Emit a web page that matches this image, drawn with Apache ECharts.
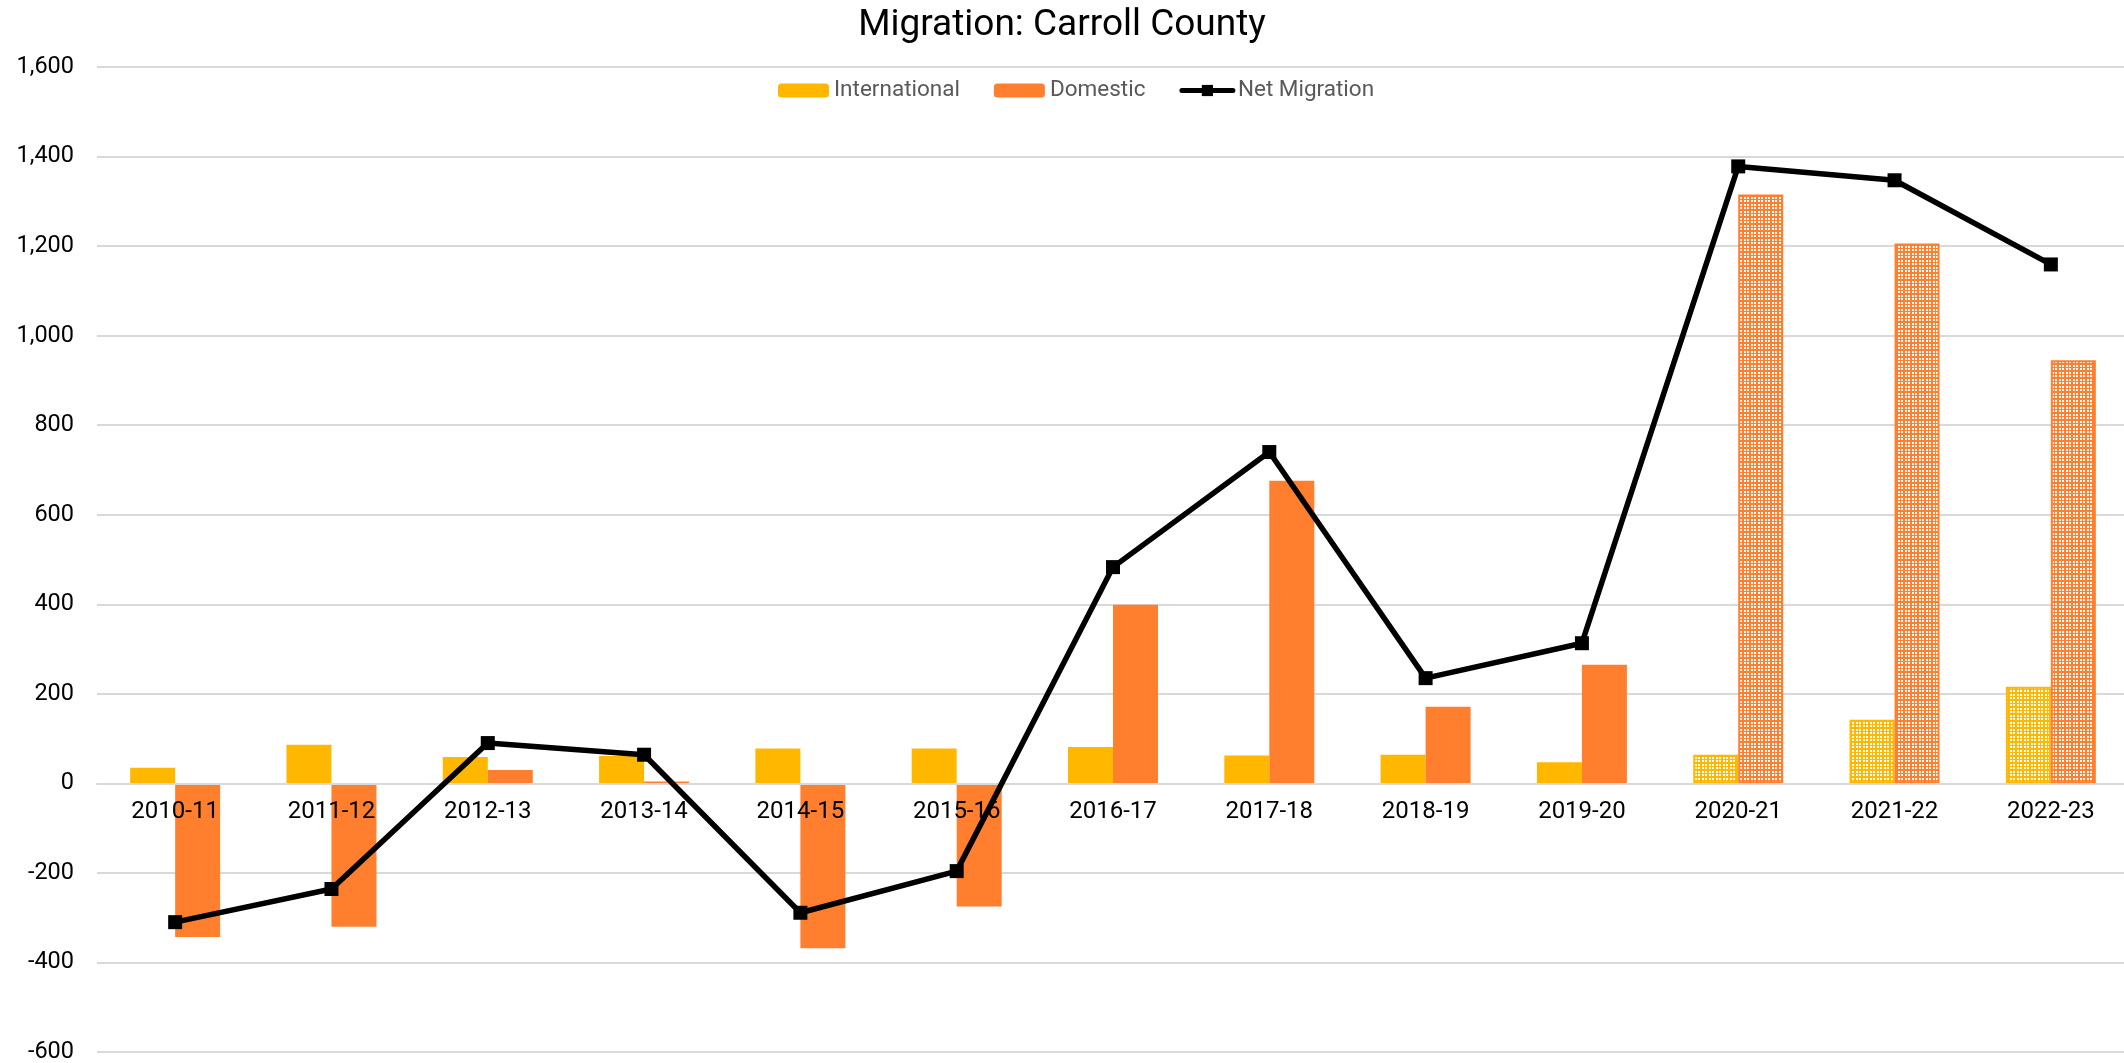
<!DOCTYPE html>
<html>
<head>
<meta charset="utf-8">
<title>Migration: Carroll County</title>
<script src="https://cdn.jsdelivr.net/npm/echarts@6/dist/echarts.min.js"></script>
<style>
    html, body { margin: 0; padding: 0; background: #fff; }
    #main { width: 2124px; height: 1063px; }
</style>
</head>
<body>
<div id="main"></div>
<script>
// 年份
var years = ['2010-11', '2011-12', '2012-13', '2013-14', '2014-15', '2015-16', '2016-17',
    '2017-18', '2018-19', '2019-20', '2020-21', '2021-22', '2022-23'];
var international = [35, 86, 59, 61, 78, 78, 81, 62, 64, 47, 64, 142, 216];
var domestic = [-343, -320, 30, 4, -368, -275, 399, 676, 171, 265, 1315, 1206, 945];
var netMigration = [-310, -236, 90, 64, -289, -196, 483, 740, 235, 313, 1378, 1347, 1159];
// 点状填充的年份
var dottedYears = ['2020-21', '2021-22', '2022-23'];
var yMin = -600;
var yMax = 1600;
var yStep = 200;

var YELLOW = '#FFB700';
var ORANGE = '#FF7F2E';

/**
 * 点状图案 (白点)
 */
function makeDots(color) {
    var c = document.createElement('canvas');
    c.width = 7;
    c.height = 7;
    var ctx = c.getContext('2d');
    ctx.fillStyle = color;
    ctx.fillRect(0, 0, 7, 7);
    ctx.fillStyle = '#ffffff';
    var pos = [1, 4];
    for (var i = 0; i < pos.length; i++) {
        for (var j = 0; j < pos.length; j++) {
            ctx.fillRect(pos[i], pos[j], 2, 2);
        }
    }
    return { image: c, repeat: 'repeat' };
}

function barData(values, color) {
    var pattern = makeDots(color);
    var out = [];
    for (var i = 0; i < values.length; i++) {
        if (dottedYears.indexOf(years[i]) >= 0) {
            out.push({
                value: values[i],
                itemStyle: { color: pattern, borderColor: color, borderWidth: 2 }
            });
        } else {
            out.push(values[i]);
        }
    }
    return out;
}

var chart = echarts.init(document.getElementById('main'), null, { renderer: 'canvas' });

var option = {
    animation: false,
    backgroundColor: '#fff',
    textStyle: { fontFamily: 'Roboto' },
    title: {
        text: 'Migration: Carroll County',
        left: 'center',
        top: 2,
        textStyle: { fontFamily: 'Roboto', fontSize: 37, fontWeight: 'normal', color: '#000' }
    },
    legend: {
        left: 773,
        top: 74,
        itemWidth: 51,
        itemHeight: 14,
        itemGap: 34,
        textStyle: { fontFamily: 'Roboto', fontSize: 22.5, color: '#595959' },
        data: [
            'International',
            'Domestic',
            { name: 'Net Migration', lineStyle: { width: 5, cap: 'round' } }
        ]
    },
    grid: {
        left: 97,
        right: -5,
        top: 67,
        bottom: 11,
        containLabel: false,
        outerBoundsMode: 'none'
    },
    xAxis: {
        type: 'category',
        data: years,
        z: 3,
        axisLine: { onZero: false, lineStyle: { color: '#d9d9d9', width: 2 } },
        axisTick: { show: false },
        axisLabel: { margin: 17, fontFamily: 'Roboto', fontSize: 24, color: '#000', interval: 0 }
    },
    yAxis: {
        type: 'value',
        min: yMin,
        max: yMax,
        interval: yStep,
        axisLine: { show: false },
        axisTick: { show: false },
        splitLine: { lineStyle: { color: '#d9d9d9', width: 2 } },
        axisLabel: {
            margin: 23,
            fontFamily: 'Roboto',
            fontSize: 23.5,
            color: '#000',
            formatter: function (v) { return v.toLocaleString('en-US'); }
        }
    },
    series: [{
        name: 'International',
        type: 'bar',
        barWidth: 45,
        barGap: '0%',
        itemStyle: { color: YELLOW },
        data: barData(international, YELLOW)
    }, {
        name: 'Domestic',
        type: 'bar',
        barWidth: 45,
        barGap: '0%',
        itemStyle: { color: ORANGE },
        data: barData(domestic, ORANGE)
    }, {
        name: 'Net Migration',
        type: 'line',
        z: 5,
        symbol: 'rect',
        symbolSize: 14,
        lineStyle: { color: '#000', width: 5.5 },
        itemStyle: { color: '#000' },
        data: netMigration
    }]
};
chart.setOption(option);

// 类目轴放到 0 的位置 (用y轴比例尺换算)
var zeroY = chart.convertToPixel({ yAxisIndex: 0 }, 0);
var bottomY = chart.convertToPixel({ yAxisIndex: 0 }, yMin);
chart.setOption({ xAxis: { offset: zeroY - bottomY } });
</script>
</body>
</html>
